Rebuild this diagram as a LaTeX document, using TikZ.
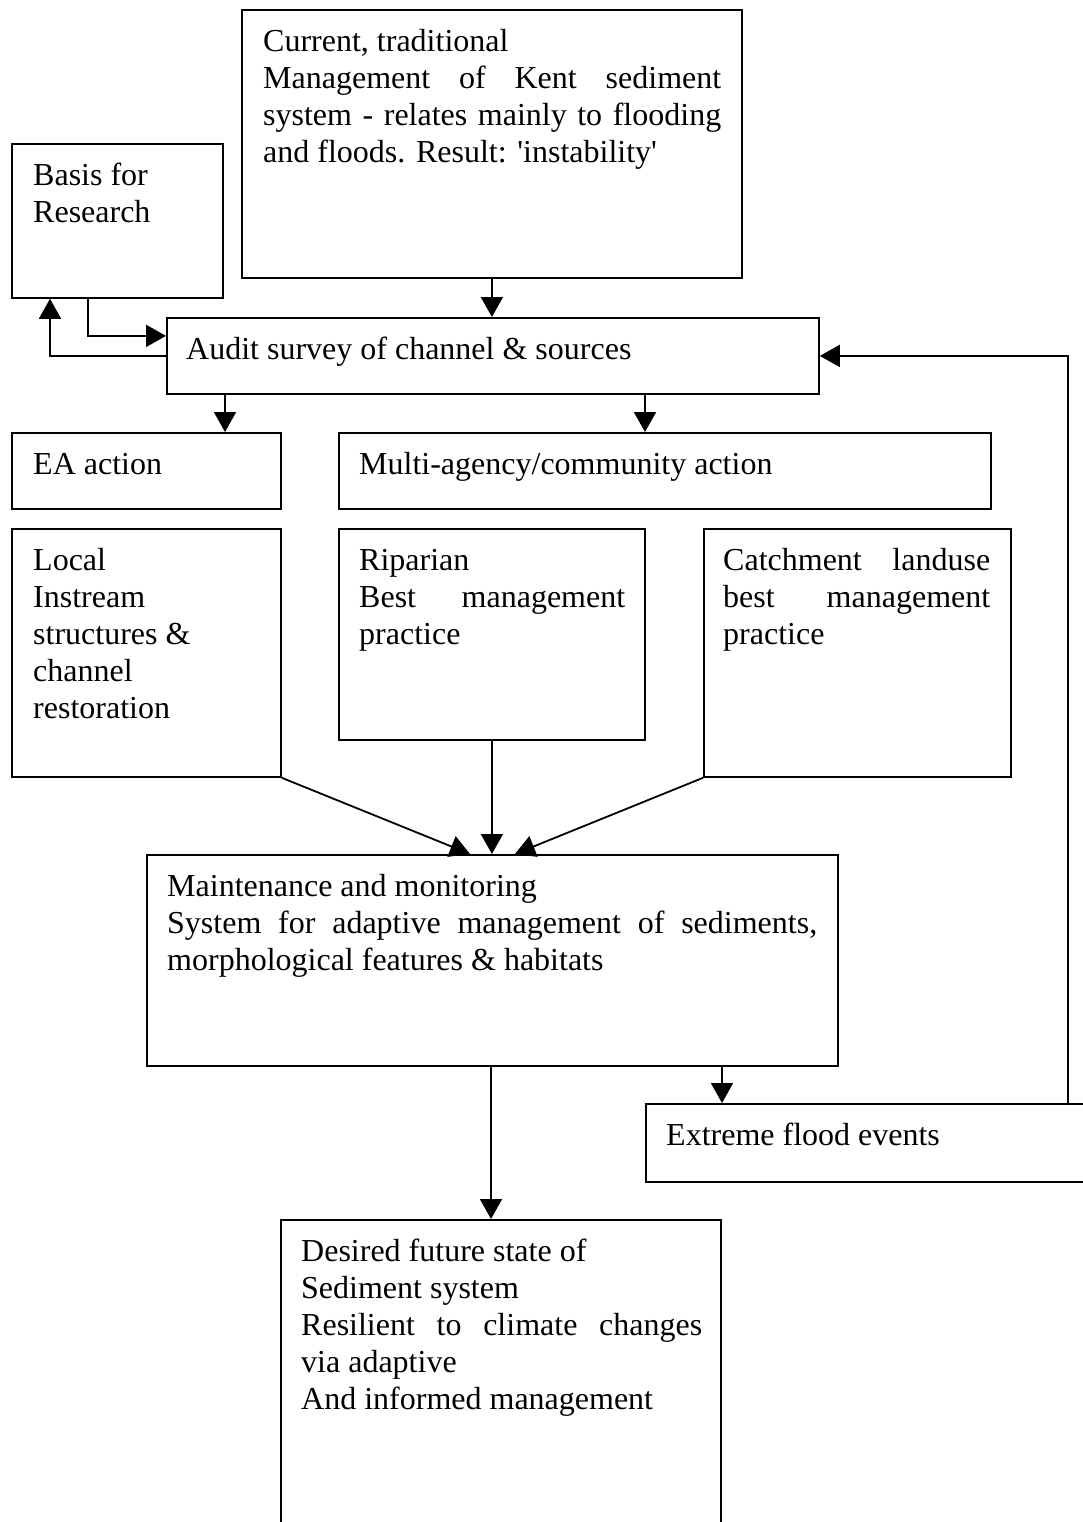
\documentclass[tikz,border=0pt]{standalone}
\usepackage{fontspec}
\setmainfont{Liberation Serif}
\usetikzlibrary{arrows.meta,calc}
% a line of the given width, set flush to both margins
\newcommand{\jline}[2]{\makebox[#1][s]{#2}}
\begin{document}
\begin{tikzpicture}[x=1pt,y=-1pt,
  box/.style={draw,line width=1.8pt,inner sep=0pt,anchor=north west},
  txt/.style={anchor=north west,inner sep=0pt,align=left,
    font=\fontsize{32}{37}\selectfont},
  arr/.style={line width=1.8pt,-{Triangle[length=20pt,width=22pt]}}]
\useasboundingbox (0,0) rectangle (1083,1522);
\clip (0,0) rectangle (1083,1522);

% boxes
\node[box,minimum width=500pt,minimum height=268pt] (cur) at (241,9) {};
\node[box,minimum width=211pt,minimum height=154pt] (basis) at (11,143) {};
\node[box,minimum width=652pt,minimum height=76pt] (audit) at (166,317) {};
\node[box,minimum width=269pt,minimum height=76pt] (ea) at (11,432) {};
\node[box,minimum width=652pt,minimum height=76pt] (multi) at (338,432) {};
\node[box,minimum width=269pt,minimum height=248pt] (local) at (11,528) {};
\node[box,minimum width=306pt,minimum height=211pt] (rip) at (338,528) {};
\node[box,minimum width=307pt,minimum height=248pt] (catch) at (703,528) {};
\node[box,minimum width=691pt,minimum height=211pt] (maint) at (146,854) {};
\node[box,minimum width=460pt,minimum height=78pt] (flood) at (645,1103) {};
\node[box,minimum width=440pt,minimum height=330pt] (desired) at (280,1219) {};

% texts
\node[txt] (tcur) at ($(cur.north west)+(22,16)$)
  {\strut Current, traditional\\
   \jline{458pt}{Management of Kent sediment}\\
   \jline{458pt}{system - relates mainly to flooding}\\
   and floods. Result: \textquotesingle instability\textquotesingle};
\node[txt] (tbasis) at ($(basis.north west)+(22,16)$)
  {\strut Basis for\\ Research};
\node[txt] (taudit) at ($(audit.north west)+(20,16)$)
  {\strut Audit survey of channel \& sources};
\node[txt] (tea) at ($(ea.north west)+(22,16)$) {\strut EA action};
\node[txt] (tmulti) at ($(multi.north west)+(21,16)$)
  {\strut Multi-agency/community action};
\node[txt] (tlocal) at ($(local.north west)+(22,16)$)
  {\strut Local\\ Instream\\ structures \&\\ channel\\ restoration};
\node[txt] (trip) at ($(rip.north west)+(21,16)$)
  {\strut Riparian\\ \jline{266pt}{Best management}\\ practice};
\node[txt] (tcatch) at ($(catch.north west)+(20,16)$)
  {\strut\jline{267pt}{Catchment landuse}\\ \jline{267pt}{best management}\\ practice};
\node[txt] (tmaint) at ($(maint.north west)+(21,16)$)
  {\strut Maintenance and monitoring\\
   \jline{650pt}{System for adaptive management of sediments,}\\
   morphological features \& habitats};
\node[txt] (tflood) at ($(flood.north west)+(21,16)$)
  {\strut Extreme flood events};
\node[txt] (tdesired) at ($(desired.north west)+(21,16)$)
  {\strut Desired future state of\\ Sediment system\\
   \jline{401pt}{Resilient to climate changes}\\ via adaptive\\
   And informed management};

% connector end points
\coordinate (bOut) at ($(basis.south west)+(77,0)$);
\coordinate (bIn)  at ($(basis.south west)+(39,0)$);
\coordinate (aUp)  at ($(audit.west)+(0,-20)$);
\coordinate (aEA)  at ($(audit.south west)+(59,0)$);
\coordinate (aMA)  at ($(audit.south west)+(479,0)$);
\coordinate (mL)   at ($(maint.north west)+(324,0)$);
\coordinate (mR)   at ($(maint.north west)+(369,0)$);
\coordinate (mFl)  at ($(maint.south west)+(576,0)$);
\coordinate (mDs)  at ($(maint.south west)+(345,0)$);
\coordinate (fUp)  at ($(flood.north west)+(423,0)$);

% connectors
\draw[arr] (cur.south) -- (cur.south |- audit.north);
\draw[arr] (bOut) |- (aUp);
\draw[arr] (audit.west) -| (bIn);
\draw[arr] (aEA) -- (aEA |- ea.north);
\draw[arr] (aMA) -- (aMA |- multi.north);
\draw[arr] (local.south east) -- (mL);
\draw[arr] (rip.south) -- (rip.south |- maint.north);
\draw[arr] (catch.south west) -- (mR);
\draw[arr] (mFl) -- (mFl |- flood.north);
\draw[arr] (mDs) -- (mDs |- desired.north);
\draw[arr] (fUp) |- (audit.east);
\end{tikzpicture}
\end{document}
